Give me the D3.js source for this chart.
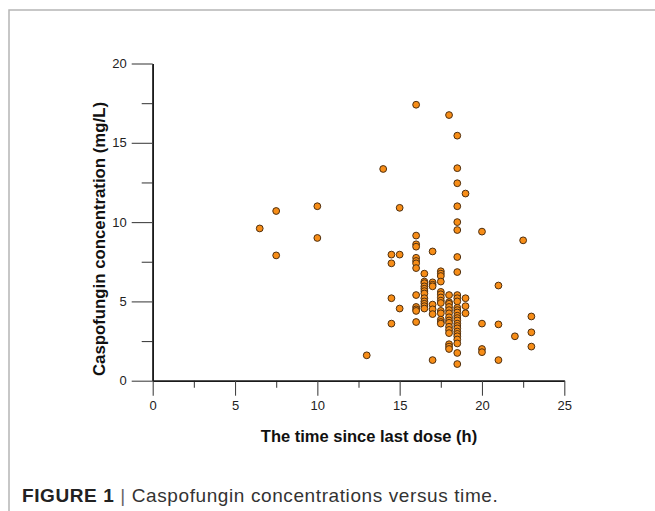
<!doctype html>
<html>
  <head>
    <meta charset='utf-8'>
    <script src="https://d3js.org/d3.v7.min.js"></script>
    <style>
      body { margin: 0; background: #fff; }
      svg { display: block; font-family: "Liberation Sans", Arial, sans-serif; }
    </style>
  </head>
  <body>
  <svg width="655" height="511"></svg>
  <script>
    // hours since last dose, paired with the concentration at the same index
    const timeH = [
      6.5, 7.5, 7.5, 10, 10, 13, 14,
      14.5, 14.5, 14.5, 14.5,
      15, 15, 15,
      16, 16, 16, 16, 16, 16, 16, 16, 16, 16, 16, 16, 16,
      16.5, 16.5, 16.5, 16.5, 16.5, 16.5, 16.5, 16.5, 16.5, 16.5, 16.5, 16.5,
      17, 17, 17, 17, 17, 17, 17, 17,
      17.5, 17.5, 17.5, 17.5, 17.5, 17.5, 17.5, 17.5, 17.5, 17.5, 17.5, 17.5, 17.5, 17.5,
      18, 18, 18, 18, 18, 18, 18, 18, 18, 18, 18, 18, 18, 18, 18, 18,
      18.5, 18.5, 18.5, 18.5, 18.5, 18.5, 18.5, 18.5, 18.5, 18.5, 18.5, 18.5, 18.5, 18.5,
      18.5, 18.5, 18.5, 18.5, 18.5, 18.5, 18.5, 18.5, 18.5, 18.5, 18.5, 18.5, 18.5,
      19, 19, 19, 19,
      20, 20, 20, 20,
      21, 21, 21,
      22, 22.5,
      23, 23, 23
    ];
    const concMgL = [
      9.6, 10.7, 7.9, 11.0, 9.0, 1.6, 13.35,
      7.95, 7.4, 5.2, 3.6,
      10.9, 7.95, 4.55,
      17.4, 9.15, 8.6, 8.45, 7.75, 7.55, 7.4, 7.1, 5.4, 4.65, 4.5, 4.4, 3.7,
      6.75, 6.25, 6.15, 5.95, 5.8, 5.65, 5.5, 5.2, 5.0, 4.85, 4.7, 4.55,
      8.15, 6.2, 6.05, 5.95, 4.8, 4.5, 4.2, 1.3,
      6.9, 6.75, 6.6, 6.25, 5.6, 5.45, 5.25, 5.05, 4.9, 4.4, 4.25, 3.85, 3.7, 3.6,
      16.75, 5.4, 4.95, 4.85, 4.65, 4.45, 4.25, 4.0, 3.8, 3.65, 3.4, 3.2, 3.0, 2.3, 2.15, 2.0,
      15.45, 13.4, 12.45, 11.0, 10.0, 9.5, 7.8, 6.85, 5.4, 5.2, 5.0, 4.6, 4.45, 4.3,
      4.1, 3.95, 3.8, 3.6, 3.45, 3.3, 3.1, 2.95, 2.8, 2.6, 2.35, 1.75, 1.05,
      11.8, 5.2, 4.7, 4.25,
      9.4, 3.6, 2.0, 1.8,
      6.0, 3.55, 1.3,
      2.8, 8.85,
      4.05, 3.05, 2.15
    ];
    const xMajor = [0, 5, 10, 15, 20, 25];
    const xMinor = [2.5, 7.5, 12.5, 17.5, 22.5];
    const yMajor = [0, 5, 10, 15, 20];
    const yMinor = [2.5, 7.5, 12.5, 17.5];

    const svg = d3.select("svg");

    const x = d3.scaleLinear().domain([0, 25]).range([152.7, 564.3]);
    const y = d3.scaleLinear().domain([0, 20]).range([380.7, 63.5]);

    // frame
    svg.append("path")
      .attr("d", "M9,511 V10 H655")
      .attr("fill", "none")
      .attr("stroke", "#b5b5b5")
      .attr("stroke-width", 1.5);

    const styleAxis = (g) => {
      g.select(".domain").attr("stroke", "#1a1a1a").attr("stroke-width", 1.6);
      g.selectAll(".tick line").attr("stroke", "#444").attr("stroke-width", 1.1);
      g.selectAll(".tick text").attr("fill", "#222").style("font-size", "13px");
    };

    // minor ticks first
    svg.append("g")
      .attr("transform", `translate(0,${y(0)})`)
      .call(d3.axisBottom(x).tickValues(xMinor).tickSize(7).tickSizeOuter(0).tickFormat(""))
      .call(styleAxis);
    svg.append("g")
      .attr("transform", `translate(${x(0)},0)`)
      .call(d3.axisLeft(y).tickValues(yMinor).tickSize(11).tickSizeOuter(0).tickFormat(""))
      .call(styleAxis);

    svg.append("g")
      .attr("transform", `translate(0,${y(0)})`)
      .call(d3.axisBottom(x).tickValues(xMajor).tickSize(15).tickSizeOuter(0).tickPadding(5))
      .call(styleAxis);
    svg.append("g")
      .attr("transform", `translate(${x(0)},0)`)
      .call(d3.axisLeft(y).tickValues(yMajor).tickSize(21).tickSizeOuter(0).tickPadding(5))
      .call(styleAxis);

    // points
    svg.append("g")
      .selectAll("circle")
      .data(timeH.map((t, i) => [t, concMgL[i]]))
      .join("circle")
        .attr("cx", (d) => x(d[0]))
        .attr("cy", (d) => y(d[1]))
        .attr("r", 3.4)
        .attr("fill", "#f78d17")
        .attr("stroke", "#4e2f10")
        .attr("stroke-width", 1);

    // axis titles
    svg.append("text")
      .attr("x", 369)
      .attr("y", 441.5)
      .attr("text-anchor", "middle")
      .style("font-size", "16.5px")
      .style("font-weight", "bold")
      .attr("fill", "#111")
      .text("The time since last dose (h)");

    svg.append("text")
      .attr("transform", "translate(104.5,239) rotate(-90)")
      .attr("text-anchor", "middle")
      .style("font-size", "16.8px")
      .style("font-weight", "bold")
      .attr("fill", "#111")
      .text("Caspofungin concentration (mg/L)");

    // caption
    const cap = svg.append("text")
      .attr("x", 22)
      .attr("y", 502)
      .style("font-size", "19px")
      .style("letter-spacing", "0.6px")
      .attr("fill", "#333");
    cap.append("tspan").style("font-weight", "bold").attr("fill", "#222").text("FIGURE 1");
    cap.append("tspan").attr("fill", "#666").text(" | ");
    cap.append("tspan").text("Caspofungin concentrations versus time.");
  </script>
  </body>
</html>
